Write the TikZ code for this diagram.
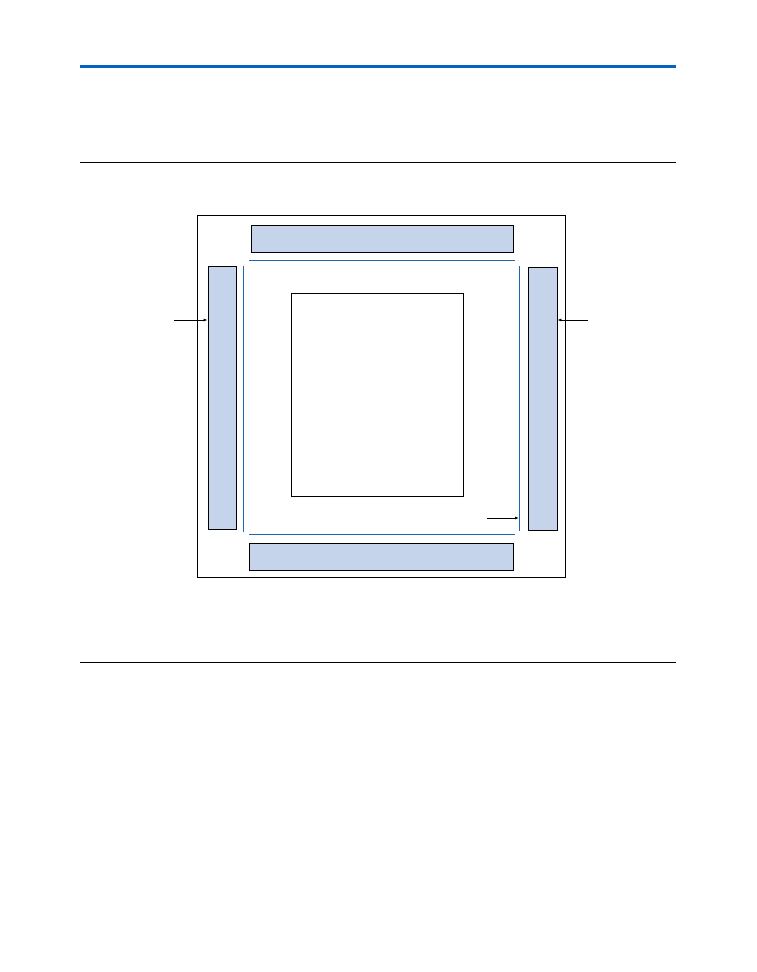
\documentclass[tikz,border=0pt]{standalone}
\usetikzlibrary{arrows.meta}
\definecolor{barfill}{HTML}{C5D4EA}
\definecolor{rulebl}{HTML}{0563C1}
\definecolor{busbl}{HTML}{1F66A8}
\tikzset{
  bar/.style={draw, fill=barfill, line width=0.8pt, inner sep=0pt},
  bus/.style={draw=busbl, line width=0.8pt},
  feed/.style={-{Latex[length=4pt,width=3pt]}, line width=0.8pt}
}
\begin{document}
\begin{tikzpicture}[x=1pt,y=-1pt]
  \useasboundingbox (0,0) rectangle (756,972);
  % page rules
  \draw[rulebl, line width=3pt] (80,66) -- (676,66);
  \draw[line width=1pt] (80,162) -- (676,162);
  \draw[line width=1pt] (80,662) -- (676,662);
  % die and blocks
  \node[draw, line width=0.8pt, minimum width=368pt, minimum height=362pt, inner sep=0pt] (die) at (381,396) {};
  \node[draw, line width=0.8pt, minimum width=172pt, minimum height=203pt, inner sep=0pt] (core) at (377,394.5) {};
  \node[bar, minimum width=262pt, minimum height=27pt] (barT) at (382,238.5) {};
  \node[bar, minimum width=264pt, minimum height=27pt] (barB) at (381,556.5) {};
  \node[bar, minimum width=28pt, minimum height=263pt] (barL) at (222,397.5) {};
  \node[bar, minimum width=29pt, minimum height=263pt] (barR) at (542.5,398.5) {};
  % buses
  \coordinate (busT1) at (249,260); \coordinate (busT2) at (515,260);
  \coordinate (busB1) at (249,534); \coordinate (busB2) at (515,534);
  \coordinate (busL1) at (243,266); \coordinate (busL2) at (243,532);
  \coordinate (busR1) at (519,266); \coordinate (busR2) at (519,531);
  \draw[bus] (busT1) -- (busT2);
  \draw[bus] (busB1) -- (busB2);
  \draw[bus] (busL1) -- (busL2);
  \draw[bus] (busR1) -- (busR2);
  % inputs
  \coordinate (inL) at (174,320);
  \coordinate (inR) at (588,320);
  \coordinate (inP) at (487,518);
  \draw[feed] (inL) -- (inL -| barL.west);
  \draw[feed] (inR) -- (inR -| barR.east);
  \draw[feed] (inP) -- (inP -| busR1);
\end{tikzpicture}
\end{document}
